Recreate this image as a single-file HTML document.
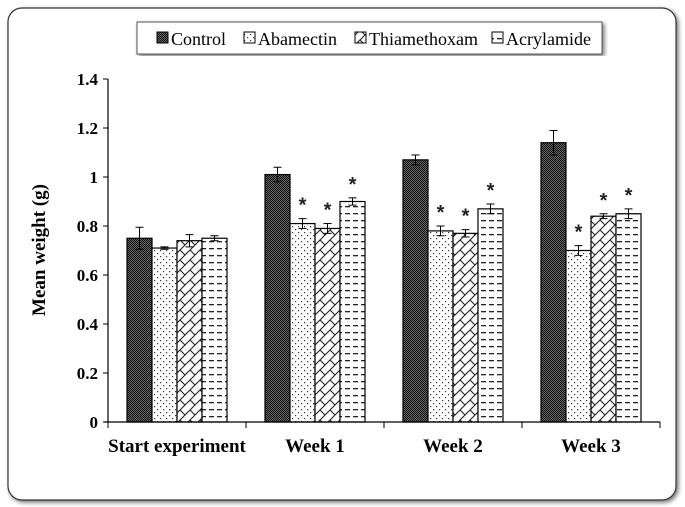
<!DOCTYPE html>
<html><head><meta charset="utf-8"><style>
body{margin:0;background:#fff;width:685px;height:507px;overflow:hidden}
svg{position:absolute;left:0;top:0}
svg text{font-family:"Liberation Serif","Times New Roman",serif}
svg text.star{font-family:"Liberation Sans",sans-serif}
</style></head><body>
<svg width="685" height="507" xmlns="http://www.w3.org/2000/svg">
<defs>
<filter id="sh" x="-5%" y="-5%" width="110%" height="110%"><feDropShadow dx="2" dy="2" stdDeviation="2" flood-color="#777"/></filter>
<pattern id="p0" width="2" height="2" patternUnits="userSpaceOnUse"><rect width="2" height="2" fill="#666"/><rect width="1" height="1" fill="#111"/><rect x="1" y="1" width="1" height="1" fill="#111"/></pattern>
<pattern id="p1" width="6" height="6" patternUnits="userSpaceOnUse"><rect width="6" height="6" fill="#fff"/><rect x="1" y="1" width="1.2" height="1.2" fill="#333"/><rect x="4" y="4" width="1.2" height="1.2" fill="#333"/></pattern>
<pattern id="p2" width="10" height="10" patternUnits="userSpaceOnUse"><rect width="10" height="10" fill="#fff"/><path d="M0 10L10 0M-2 2L2 -2M8 12L12 8M0 0L5 5M5 10L10 15M5 -5L10 0" stroke="#222" stroke-width="1.1"/></pattern>
<pattern id="p3" width="8" height="7" patternUnits="userSpaceOnUse"><rect width="8" height="7" fill="#fff"/><rect x="1" y="3" width="5" height="1.3" fill="#222"/></pattern>
</defs>
<rect x="8" y="8" width="668" height="492" rx="14" fill="#fff" stroke="#333" stroke-width="1.2" filter="url(#sh)"/>
<g>
<rect x="137" y="22" width="465" height="32" fill="#fff" stroke="#555" filter="url(#sh)"/>
</g>
<g id="plot"></g>
</svg>
<script>
const categories=["Start experiment","Week 1","Week 2","Week 3"];
const seriesNames=["Control","Abamectin","Thiamethoxam","Acrylamide"];
const control=[0.75,1.01,1.07,1.14];
const abamectin=[0.71,0.81,0.78,0.70];
const thiamethoxam=[0.74,0.79,0.77,0.84];
const acrylamide=[0.75,0.90,0.87,0.85];
const errControl=[0.045,0.03,0.02,0.05];
const errAbamectin=[0.005,0.02,0.02,0.02];
const errThiamethoxam=[0.025,0.02,0.015,0.01];
const errAcrylamide=[0.01,0.015,0.02,0.02];
const significant=[[false,false,false,false],[false,true,true,true],[false,true,true,true],[false,true,true,true]];
const yTicks=[0,0.2,0.4,0.6,0.8,1,1.2,1.4];

const NS="http://www.w3.org/2000/svg";
const g=document.getElementById('plot');
const X0=108,CW=138,Y0=422,YS=245,BW=25;
const y=v=>Y0-v*YS;
const xc=i=>X0+CW*i+CW/2;
function mk(t,a,p){const e=document.createElementNS(NS,t);for(const k in a)e.setAttribute(k,a[k]);(p||g).appendChild(e);return e;}
const series=[control,abamectin,thiamethoxam,acrylamide];
const errs=[errControl,errAbamectin,errThiamethoxam,errAcrylamide];
let ax=mk('line',{x1:X0,y1:y(1.4),x2:X0,y2:Y0,stroke:'#000','stroke-width':1.2});


yTicks.forEach(v=>{
 mk('line',{x1:X0-5,y1:y(v),x2:X0,y2:y(v),stroke:'#000'});
 const t=mk('text',{x:X0-10,y:y(v)+6,'text-anchor':'end','font-size':17,'font-weight':'bold'});
 t.textContent=v;
 
 
});
const yt=mk('text',{x:45,y:250,'text-anchor':'middle','font-size':19,'font-weight':'bold',transform:'rotate(-90 45 250)'});
yt.textContent='Mean weight (g)';


categories.forEach((c,i)=>{
 series.forEach((s,j)=>{
  const bx=xc(i)-2*BW+j*BW;
  const r=mk('rect',{x:bx,y:y(s[i]),width:BW,height:Y0-y(s[i]),fill:`url(#p${j})`,stroke:'#000','stroke-width':1.2});
  
  
  const cx=bx+BW/2,t=y(s[i]+errs[j][i]),b=y(s[i]-errs[j][i]);
  mk('path',{d:`M${cx} ${t}V${b}M${cx-4} ${t}H${cx+4}M${cx-4} ${b}H${cx+4}`,stroke:'#000','stroke-width':1});
  if(significant[i][j]){
   const st=mk('text',{x:cx,y:t-7,'text-anchor':'middle','font-size':20,'font-weight':'bold',fill:'#222',class:'star'});
   st.textContent='*';
   
   
  }
 });
 const lb=mk('text',{x:xc(i),y:Y0+30,'text-anchor':'middle','font-size':19,'font-weight':'bold'});
 lb.textContent=c;
 
 
});
let xa=mk('line',{x1:X0-4,y1:Y0,x2:X0+CW*4,y2:Y0,stroke:'#000','stroke-width':1.2});


for(let i=0;i<=4;i++)mk('line',{x1:X0+CW*i,y1:Y0,x2:X0+CW*i,y2:Y0+6,stroke:'#000'});
const lx=[157,244,355,492];
seriesNames.forEach((n,j)=>{
 const e=mk('g',{});
 
 
 mk('rect',{x:lx[j],y:32,width:11,height:11,fill:`url(#p${j})`,stroke:'#000'},e);
 const t=mk('text',{x:lx[j]+14,y:45,'font-size':18},e);
 t.textContent=n;
});
</script>
</body></html>
